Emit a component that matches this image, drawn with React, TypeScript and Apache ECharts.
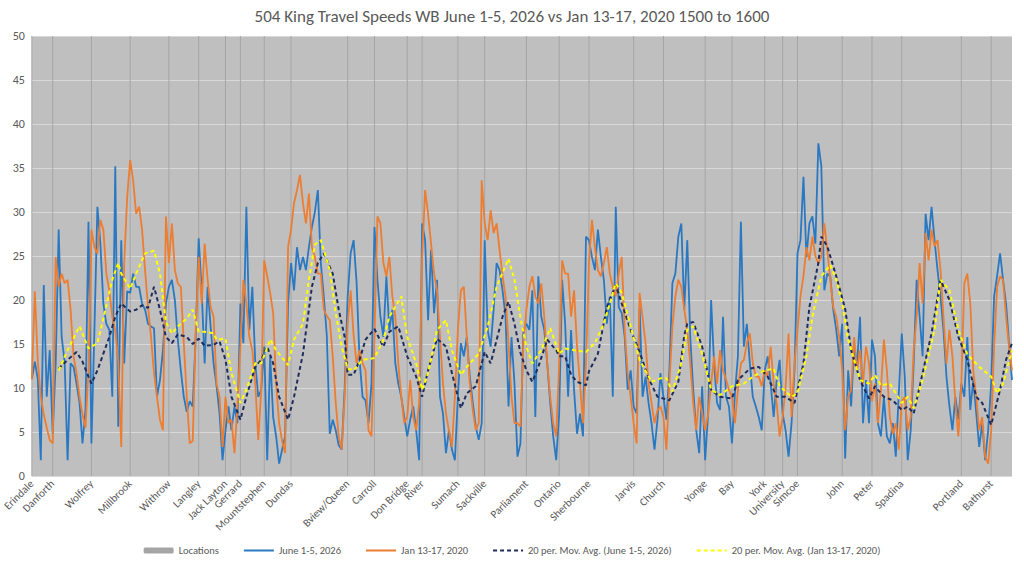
import React, { useEffect, useRef } from 'react';
import * as echarts from 'echarts';

const chartTitle = '504 King Travel Speeds WB June 1-5, 2026 vs Jan 13-17, 2020 1500 to 1600';

const locationNames = [
  'Erindale', 'Danforth', 'Wolfrey', 'Millbrook', 'Withrow', 'Langley', 'Jack Layton', 'Gerrard',
  'Mountstephen', 'Dundas', 'Bview/Queen', 'Carroll', 'Don Bridge', 'River', 'Sumach', 'Sackville',
  'Parliament', 'Ontario', 'Sherbourne', 'Jarvis', 'Church', 'Yonge', 'Bay', 'York', 'University',
  'Simcoe', 'John', 'Peter', 'Spadina', 'Portland', 'Bathurst',
];
// sample number (0-based) at which each location sits
const locationSample = [
  0, 7, 20, 33, 46, 56, 65, 70, 78, 87, 106, 115, 126, 131, 143, 152, 166, 177, 187, 202, 212, 226,
  235, 246, 252, 257, 272, 282, 292, 312, 322,
];
const locationBarValue = 50;

const juneSpeeds = [
  11, 13, 11, 1.8, 21.7, 9, 14.3, 4.8, 12.8, 28,
  15.8, 13, 1.8, 12.8, 12.4, 10.5, 8.3, 3.7, 7.5, 28.9,
  3.7, 16.6, 30.6, 26.4, 19.6, 17.3, 16.6, 9, 35.2, 5.6,
  26.8, 12.8, 21, 20.8, 23, 21.5, 21.5, 19.6, 18.9, 17.3,
  17, 16.8, 9, 10.9, 14.3, 19.6, 21.5, 22.3, 20, 15.5,
  12, 9, 7.3, 8.5, 7.9, 15.8, 27, 21.1, 12.8, 21.5,
  17, 12.8, 10.2, 7.1, 1.8, 5.2, 7.9, 5.2, 7.9, 6,
  19.6, 15.1, 30.6, 16.6, 21.5, 12.8, 9, 9.8, 14.7, 1.8,
  13.6, 6.7, 4.5, 1.4, 3, 4.5, 19.6, 24.2, 21.1, 26,
  23.4, 24.9, 23.4, 26, 28.3, 30, 32.5, 24.2, 20.4, 16,
  4.8, 6.4, 5.2, 3.5, 3, 10, 20.4, 25.3, 26.8, 22,
  13.2, 9, 8.6, 6, 10.5, 28.3, 22.3, 18.1, 15.8, 22.7,
  16.6, 18.9, 12.8, 10.5, 9, 6.7, 4.5, 6.4, 7.9, 5.2,
  1.8, 28.7, 26.8, 17.7, 25.7, 18.5, 22.3, 9, 7.1, 2.6,
  5.2, 3, 1.8, 9, 15.1, 13.6, 15.8, 11.3, 8.3, 5.6,
  4.1, 6, 26.8, 16.6, 14.7, 18.9, 24.2, 23.4, 21.1, 18.1,
  7.9, 15.8, 10.5, 2.2, 3.7, 16.6, 17.3, 16.6, 21.1, 6.7,
  22.7, 18.1, 16.6, 12.8, 8.3, 4.5, 1.8, 7.1, 22.3, 17.3,
  9, 16.6, 9.8, 4.8, 7.1, 4.5, 27.2, 26.8, 24.9, 23.4,
  28, 24.9, 22.3, 17.3, 20.4, 9, 30.6, 19.2, 18.5, 15.8,
  9.8, 12, 7.9, 7.1, 19.2, 9, 11.3, 8.3, 6, 3,
  6.4, 11.7, 9, 6.4, 12, 21.9, 23, 27.2, 28.7, 18.9,
  26.8, 15.8, 9.8, 5.2, 2.6, 10.2, 1.8, 7.1, 20, 12.8,
  8.3, 7.5, 18.1, 9, 7.9, 3.7, 9.4, 13.6, 28.9, 14.7,
  17.3, 12.8, 9, 7.9, 6.7, 5.2, 12, 13.6, 10.5, 6.7,
  10.9, 13.2, 7.1, 5.2, 2.2, 6, 12, 25.3, 26.8, 34,
  24.9, 28.7, 29.5, 26.4, 37.8, 35.2, 21.1, 23, 22.7, 18.9,
  16.6, 13.6, 17.3, 2, 12, 7.9, 14.7, 12.8, 18.1, 6,
  10.9, 6, 15.5, 13.6, 6, 4.5, 9, 4.5, 3.7, 6,
  2.2, 9.4, 16.2, 11.3, 1.8, 5.2, 12.8, 22.3, 18.1, 13.6,
  29.8, 26.8, 30.6, 26.8, 23.4, 20.4, 16.6, 11.3, 7.9, 5.2,
  9, 6.4, 10.5, 9, 15.8, 7.5, 10.9, 7.1, 3.3, 6,
  1.8, 5.2, 10.5, 20.4, 22.7, 25.3, 22.3, 19.6, 15.1, 10.9,
];

const janSpeeds = [
  11, 21, 13, 9, 7, 5.5, 4.1, 3.7, 24.9, 21.5,
  23, 21.9, 22.3, 18.9, 13.6, 11.7, 9, 7, 5.5, 12,
  28, 26, 25.3, 29.1, 28, 23, 21.1, 18.1, 16.5, 13,
  3.3, 24.2, 31.7, 35.9, 33.6, 29.8, 30.6, 28, 23.4, 19.2,
  15.8, 11.7, 9, 6.4, 5.2, 29.5, 24.2, 28.7, 23.4, 21.9,
  21.5, 15.1, 9, 3.7, 4, 16.6, 24.9, 19.6, 26.4, 22.3,
  19.2, 18.1, 10.5, 9, 3.3, 9, 6, 6.4, 2.6, 8,
  14.7, 22.3, 19.6, 15.8, 14.3, 10.5, 4.1, 9.8, 24.5, 22.7,
  20.8, 18.5, 10.5, 6, 4, 2.6, 26, 28, 31, 32.5,
  34.2, 31, 28.7, 32.1, 26, 24.9, 23, 23, 18.9, 18.2,
  17.7, 13.6, 8.3, 4.5, 3, 9, 17.3, 21.1, 16, 12.8,
  14.3, 12.8, 12, 5.2, 4.5, 15.8, 29.5, 28.7, 24.2, 22.7,
  24.9, 20.4, 18.1, 12.8, 9, 6, 6.7, 10.9, 6.7, 5.2,
  8.3, 24.9, 32.5, 29.8, 26.4, 23, 21.1, 15.8, 10.5, 7.1,
  5.2, 3.3, 9, 16.6, 21.1, 21.5, 15.8, 10.5, 7.5, 5.2,
  6, 33.6, 28.7, 26.8, 30.2, 27.6, 28.7, 25.7, 22.7, 20.4,
  15.1, 9, 6, 6, 5.6, 15.1, 18.9, 21.5, 22.7, 20.4,
  19.6, 21.9, 18.1, 12.8, 9, 6, 4.5, 12.8, 24.5, 23,
  23, 18.1, 21.1, 14.7, 10.5, 6, 12.8, 24.2, 29.1, 26,
  23.4, 22.7, 24.2, 26, 23, 21.5, 20.4, 23, 24.9, 16.6,
  11.7, 9, 6, 3.7, 20.8, 18, 15.1, 10.5, 8.3, 6,
  7.5, 7.9, 6.7, 3, 10.5, 17, 20.4, 22.3, 21.5, 18.9,
  16.6, 12.8, 8.3, 5.2, 9, 7.1, 5.2, 7, 10.5, 13.6,
  10.5, 14.3, 12, 11, 9.8, 9, 6, 9.8, 12.8, 13.2,
  15.1, 16.2, 12.8, 11.3, 11.3, 10.2, 12, 11.3, 14.7, 10.5,
  8.3, 4.5, 6.7, 10, 16.2, 6.7, 12.8, 16.6, 20.4, 22.7,
  26, 24.5, 27.2, 25, 24.2, 24.9, 28.7, 25.7, 22.3, 19.2,
  18.1, 15.8, 12, 5.2, 9, 9.8, 15.8, 12, 14.3, 10.5,
  14.7, 12.8, 8.5, 10.5, 6, 9.8, 15.5, 12, 6.7, 4.8,
  6, 3, 8.5, 9, 5.2, 6.7, 14.3, 18.1, 24.2, 19.6,
  27.6, 24.5, 28, 26.1, 26.8, 23.4, 18.1, 12.8, 16.6, 13.6,
  8.3, 4.5, 10.5, 21.9, 23, 19.6, 12, 9, 5.2, 6.7,
  2.2, 1.4, 5.2, 14.7, 21.5, 22.7, 22.3, 18.1, 14.7, 12,
];

// [sample, value]
const juneMovAvg = [
  [9, 12.2], [12, 13.2], [15, 14.1], [17, 13.0], [19, 11.3], [20, 10.5], [22, 12.0], [24, 13.9],
  [26, 15.8], [28, 18.1], [30, 19.6], [33, 18.7], [35, 18.9], [37, 19.4], [39, 19.1], [41, 21.5],
  [43, 18.9], [45, 15.8], [47, 15.1], [49, 16.1], [52, 15.8], [54, 15.0], [56, 15.6], [58, 14.8],
  [61, 14.9], [63, 15.3], [65, 13.2], [67, 9.0], [70, 6.4], [72, 9.0], [75, 12.4], [77, 13.2],
  [79, 14.7], [81, 12.8], [83, 9.0], [86, 6.4], [88, 9.0], [91, 13.9], [94, 21.5], [96, 24.2],
  [98, 25.3], [101, 23.0], [103, 18.9], [105, 15.8], [106, 11.5], [108, 11.5], [110, 13.2],
  [112, 15.5], [115, 16.7], [118, 14.7], [120, 16.4], [123, 17.0], [126, 13.6], [129, 11.3],
  [131, 9.0], [133, 12.0], [136, 15.6], [139, 14.7], [141, 11.7], [144, 7.7], [146, 9.4],
  [149, 10.2], [152, 14.1], [154, 12.8], [158, 18.1], [160, 19.8], [162, 17.3], [164, 14.0],
  [166, 12.0], [168, 10.7], [170, 12.4], [173, 15.5], [176, 14.3], [177, 13.6], [179, 13.6],
  [181, 11.5], [183, 10.7], [186, 10.3], [187, 11.9], [190, 13.9], [193, 19.2], [196, 21.7],
  [198, 19.6], [201, 16.6], [204, 14.1], [207, 11.1], [210, 9.0], [212, 8.8], [214, 8.6],
  [217, 10.7], [219, 16.0], [220, 17.3], [222, 17.5], [225, 14.7], [228, 9.8], [231, 9.0],
  [235, 8.8], [237, 10.9], [241, 12.2], [244, 12.4], [247, 11.3], [250, 9.0], [253, 9.0],
  [256, 8.3], [259, 12.8], [261, 19.2], [264, 24.2], [265, 27.2], [267, 26.1], [270, 22.7],
  [273, 19.0], [275, 14.3], [278, 10.9], [281, 8.8], [283, 10.2], [286, 9.0], [289, 8.6],
  [292, 7.5], [294, 7.9], [296, 7.1], [299, 11.7], [302, 16.2], [305, 22.3], [308, 20.0],
  [311, 15.8], [314, 13.2], [317, 9.0], [319, 8.3], [322, 5.8], [325, 9.8], [327, 13.2], [329, 15.1],
];

const janMovAvg = [
  [9, 12.0], [12, 14.3], [16, 17.0], [19, 14.5], [22, 15.1], [24, 17.9], [27, 22.3], [29, 24.2],
  [30, 23.0], [33, 21.3], [35, 23.0], [38, 25.3], [41, 25.6], [43, 23.0], [45, 17.5], [47, 16.2],
  [49, 17.0], [52, 17.9], [54, 18.9], [56, 16.4], [58, 16.4], [61, 16.2], [62, 15.5], [65, 15.6],
  [67, 11.7], [70, 8.3], [72, 9.8], [75, 12.8], [77, 12.8], [80, 15.5], [82, 14.3], [86, 12.6],
  [88, 15.5], [91, 17.3], [93, 22.3], [95, 26.3], [97, 26.8], [100, 23.4], [102, 18.5],
  [104, 14.7], [106, 12.2], [108, 12.0], [111, 13.2], [115, 13.4], [118, 15.5], [120, 18.1],
  [124, 20.4], [126, 15.8], [129, 12.8], [131, 9.8], [133, 11.7], [136, 16.6], [139, 17.7],
  [141, 14.3], [144, 11.5], [146, 12.4], [150, 13.9], [153, 17.0], [156, 21.5], [160, 24.7],
  [162, 22.3], [164, 18.0], [166, 14.7], [168, 12.8], [171, 14.3], [174, 16.8], [177, 13.9],
  [179, 14.5], [182, 14.3], [186, 14.1], [189, 15.1], [192, 17.3], [196, 21.9], [198, 20.8],
  [201, 17.0], [204, 13.2], [208, 10.7], [211, 11.1], [213, 11.1], [215, 9.6], [218, 12.8],
  [220, 16.6], [222, 17.0], [225, 13.9], [228, 9.8], [231, 9.2], [235, 10.2], [239, 10.5],
  [242, 11.3], [246, 12.0], [249, 12.2], [251, 10.2], [255, 9.0], [257, 9.4], [260, 13.6],
  [262, 18.1], [265, 22.7], [268, 24.0], [270, 22.3], [272, 19.6], [274, 15.5], [278, 10.9],
  [281, 10.5], [283, 11.5], [285, 10.3], [288, 10.5], [292, 8.3], [294, 9.0], [296, 7.7],
  [299, 10.9], [303, 16.6], [305, 22.3], [308, 21.1], [311, 16.6], [314, 13.8], [318, 12.4],
  [322, 11.3], [324, 9.4], [326, 10.5], [329, 14.3],
];

const FONT = 'Carlito, Calibri, "Liberation Sans", Arial, sans-serif';
const TEXT = '#595959';

export default function App() {
  const ref = useRef<HTMLDivElement>(null);

  useEffect(() => {
    document.body.style.margin = '0';
    if (!ref.current) return;
    const chart = echarts.init(ref.current, null, { renderer: 'svg' });
    const n = juneSpeeds.length;
    const categories = Array.from({ length: n }, (_, i) => String(i + 1));
    const nameAt = new Map<number, string>();
    locationSample.forEach((s, k) => nameAt.set(s, locationNames[k]));
    const locData = categories.map((_, i) => (nameAt.has(i) ? locationBarValue : null));
    const noSymbol = { opacity: 0 };

    chart.setOption({
      animation: false,
      backgroundColor: '#ffffff',
      textStyle: { fontFamily: FONT },
      title: {
        text: chartTitle,
        left: 'center',
        top: 3,
        textStyle: { fontFamily: FONT, fontSize: 17, fontWeight: 'normal', color: TEXT },
      },
      legend: {
        bottom: 5,
        left: 'center',
        itemWidth: 30,
        itemHeight: 6,
        itemGap: 24,
        textStyle: { fontFamily: FONT, fontSize: 10.5, color: TEXT },
        data: [
          { name: 'Locations' },
          { name: 'June 1-5, 2026', itemStyle: noSymbol },
          { name: 'Jan 13-17, 2020', itemStyle: noSymbol },
          { name: '20 per. Mov. Avg. (June 1-5, 2026)', itemStyle: noSymbol },
          { name: '20 per. Mov. Avg. (Jan 13-17, 2020)', itemStyle: noSymbol },
        ],
      },
      grid: {
        left: 26,
        right: 12,
        top: 36,
        bottom: 90,
        show: true,
        backgroundColor: '#bfbfbf',
        borderWidth: 0,
      },
      xAxis: {
        type: 'category',
        data: categories,
        boundaryGap: false,
        axisLine: { show: false },
        axisTick: { show: false },
        splitLine: { show: false },
        axisLabel: {
          interval: (i: number) => nameAt.has(i),
          formatter: (_v: string, i: number) => nameAt.get(i) ?? '',
          rotate: 45,
          fontSize: 11,
          color: TEXT,
          margin: 6,
          fontFamily: FONT,
        },
      },
      yAxis: {
        type: 'value',
        min: 0,
        max: 50,
        interval: 5,
        axisLine: { show: false },
        axisTick: { show: false },
        splitLine: { lineStyle: { color: '#d9d9d9', width: 1 } },
        axisLabel: { fontSize: 12, color: TEXT, margin: 7, fontFamily: FONT },
      },
      series: [
        {
          name: 'Locations',
          type: 'bar',
          data: locData,
          barWidth: 1,
          itemStyle: { color: '#a5a5a5' },
          silent: true,
        },
        {
          name: 'June 1-5, 2026',
          type: 'line',
          data: juneSpeeds,
          showSymbol: false,
          symbol: 'none',
          lineStyle: { color: '#2a78c2', width: 1.8 },
          itemStyle: { color: '#2a78c2' },
        },
        {
          name: 'Jan 13-17, 2020',
          type: 'line',
          data: janSpeeds,
          showSymbol: false,
          symbol: 'none',
          lineStyle: { color: '#ed7d31', width: 1.8 },
          itemStyle: { color: '#ed7d31' },
        },
        {
          name: '20 per. Mov. Avg. (June 1-5, 2026)',
          type: 'line',
          data: juneMovAvg,
          showSymbol: false,
          symbol: 'none',
          lineStyle: { color: '#1f2d5c', width: 2, type: [4, 3] },
          itemStyle: { color: '#1f2d5c' },
        },
        {
          name: '20 per. Mov. Avg. (Jan 13-17, 2020)',
          type: 'line',
          data: janMovAvg,
          showSymbol: false,
          symbol: 'none',
          lineStyle: { color: '#ffff00', width: 2, type: [4, 3] },
          itemStyle: { color: '#ffff00' },
        },
      ],
    });
    return () => chart.dispose();
  }, []);

  return (
    <div
      ref={ref}
      style={{ position: 'fixed', left: 0, top: 0, width: 1024, height: 566, background: '#fff' }}
    />
  );
}
